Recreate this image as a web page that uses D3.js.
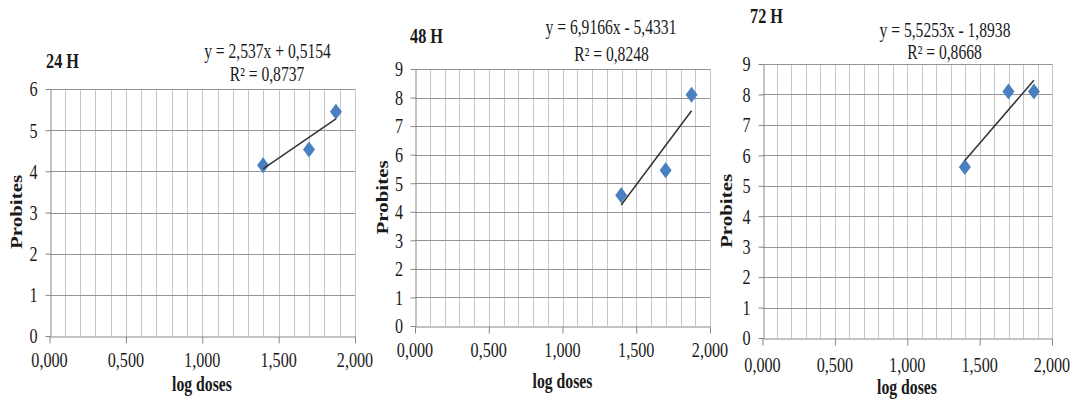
<!DOCTYPE html>
<html>
<head>
<meta charset="utf-8">
<script src="https://cdn.jsdelivr.net/npm/d3@7/dist/d3.min.js"></script>
<style>
  html, body { margin: 0; padding: 0; background: #fff; }
  svg { display: block; }
  text { font-family: "Liberation Serif", "Times New Roman", serif; fill: #1a1a1a; }
</style>
</head>
<body>
<svg id="chart" width="1074" height="407"></svg>
<script>
// ---------- data ----------
const panelTitles = ["24 H", "48 H", "72 H"];
const equationLabels = ["y = 2,537x + 0,5154", "y = 6,9166x - 5,4331", "y = 5,5253x - 1,8938"];
const r2Labels = ["R\u00b2 = 0,8737", "R\u00b2 = 0,8248", "R\u00b2 = 0,8668"];
const logDoses = [1.398, 1.699, 1.875];
const probits24 = [4.15, 4.53, 5.45];
const probits48 = [4.58, 5.45, 8.1];
const probits72 = [5.62, 8.1, 8.1];
const trendSlopes = [2.537, 6.9166, 5.5253];
const trendIntercepts = [0.5154, -5.4331, -1.8938];
const yMaxima = [6, 9, 9];
const xTickValues = [0, 0.5, 1, 1.5, 2];
const xLabel = "log doses";
const yLabel = "Probites";

const seriesValues = [probits24, probits48, probits72];

// ---------- layout ----------
const layouts = [
  { left: 49.5, right: 355, top: 89, bottom: 336,
    title: [46, 68], eq: [267.5, 58], r2: [267, 81], ylab: [15.7, 212], xlab: [202, 390.5], xLabOff: 31 },
  { left: 415, right: 710, top: 69, bottom: 326,
    title: [410, 43], eq: [611, 34], r2: [611.5, 61], ylab: [381.7, 197.5], xlab: [562.5, 388], xLabOff: 31 },
  { left: 762.5, right: 1052, top: 64, bottom: 338,
    title: [750, 23], eq: [945, 37], r2: [944.5, 59], ylab: [725.7, 211], xlab: [907, 394], xLabOff: 34 }
];

const svg = d3.select("#chart");
const fmtX = v => d3.format(".3f")(v).replace(".", ",");

function sText(g, x, y, str, opts) {
  const o = Object.assign({ size: 20, sx: 0.8, anchor: "middle", weight: "normal", rotate: 0, dy: null }, opts || {});
  const grp = g.append("g").attr("transform", `translate(${x},${y}) scale(${o.sx},1)` + (o.rotate ? ` rotate(${o.rotate})` : ""));
  const t = grp.append("text")
    .attr("text-anchor", o.anchor)
    .attr("font-size", o.size)
    .attr("font-weight", o.weight)
    .text(str);
  if (o.dy) t.attr("dy", o.dy);
  return t;
}

function diamondPath(hw, hh) {
  const p = d3.path();
  p.moveTo(0, -hh); p.lineTo(hw, 0); p.lineTo(0, hh); p.lineTo(-hw, 0); p.closePath();
  return p.toString();
}

layouts.forEach((L, i) => {
  const g = svg.append("g");
  const x = d3.scaleLinear().domain([0, 2]).range([L.left, L.right]);
  const y = d3.scaleLinear().domain([0, yMaxima[i]]).range([L.bottom, L.top]);

  // vertical minor gridlines every 0.1
  const vTicks = d3.range(1, 21).map(k => k / 10);
  g.append("g").selectAll("line").data(vTicks).join("line")
    .attr("x1", d => Math.round(x(d)) + 0.5).attr("x2", d => Math.round(x(d)) + 0.5)
    .attr("y1", y(yMaxima[i])).attr("y2", y(0))
    .attr("stroke", "#c6c6c6").attr("stroke-width", 1);

  // horizontal major gridlines
  const hTicks = d3.range(1, yMaxima[i] + 1);
  g.append("g").selectAll("line").data(hTicks).join("line")
    .attr("x1", x(0)).attr("x2", x(2))
    .attr("y1", d => Math.round(y(d)) + 0.5).attr("y2", d => Math.round(y(d)) + 0.5)
    .attr("stroke", "#959595").attr("stroke-width", 1);

  // axes via d3
  const xAxis = d3.axisBottom(x).tickValues(xTickValues).tickFormat("").tickSize(7).tickSizeOuter(0);
  const xg = g.append("g").attr("transform", `translate(0,${Math.round(y(0)) + 0.5})`).call(xAxis);
  xg.select(".domain").attr("stroke", "#878787");
  xg.selectAll(".tick line").attr("stroke", "#878787");

  const yAxis = d3.axisLeft(y).ticks(yMaxima[i]).tickFormat("").tickSize(5).tickSizeOuter(0);
  const yg = g.append("g").attr("transform", `translate(${Math.round(x(0)) + 0.5},0)`).call(yAxis);
  yg.select(".domain").attr("stroke", "#878787");
  yg.selectAll(".tick line").attr("stroke", "#878787");

  // tick labels
  xTickValues.forEach(v => sText(g, x(v), y(0) + L.xLabOff, fmtX(v), { size: 21, sx: 0.77 }));
  d3.range(0, yMaxima[i] + 1).forEach(v => sText(g, x(0) - 12, y(v), String(v), { size: 21, sx: 0.77, anchor: "end", dy: "0.35em" }));

  // axis titles
  sText(g, L.xlab[0], L.xlab[1], xLabel, { size: 21, sx: 0.75, weight: "bold" });
  sText(g, L.ylab[0], L.ylab[1], yLabel, { size: 21, sx: 0.8, weight: "bold", rotate: -90, dy: "0.35em" });

  // panel title and equation
  sText(g, L.title[0], L.title[1], panelTitles[i], { size: 22, sx: 0.74, weight: "bold", anchor: "start" });
  sText(g, L.eq[0], L.eq[1], equationLabels[i], { size: 20, sx: 0.78 });
  sText(g, L.r2[0], L.r2[1], r2Labels[i], { size: 20, sx: 0.78 });

  // points
  const pts = logDoses.map((d, k) => ({ x: d, y: seriesValues[i][k] }));
  g.append("g").selectAll("path").data(pts).join("path")
    .attr("d", diamondPath(6, 8))
    .attr("transform", d => `translate(${x(d.x)},${y(d.y)})`)
    .attr("fill", "#4a80c0");

  // trendline
  const xMin = d3.min(logDoses), xMax = d3.max(logDoses);
  const trend = [xMin, xMax].map(v => ({ x: v, y: trendSlopes[i] * v + trendIntercepts[i] }));
  g.append("path").datum(trend)
    .attr("d", d3.line().x(d => x(d.x)).y(d => y(d.y)))
    .attr("stroke", "#333").attr("stroke-width", 1.5).attr("fill", "none");
});
</script>
</body>
</html>
